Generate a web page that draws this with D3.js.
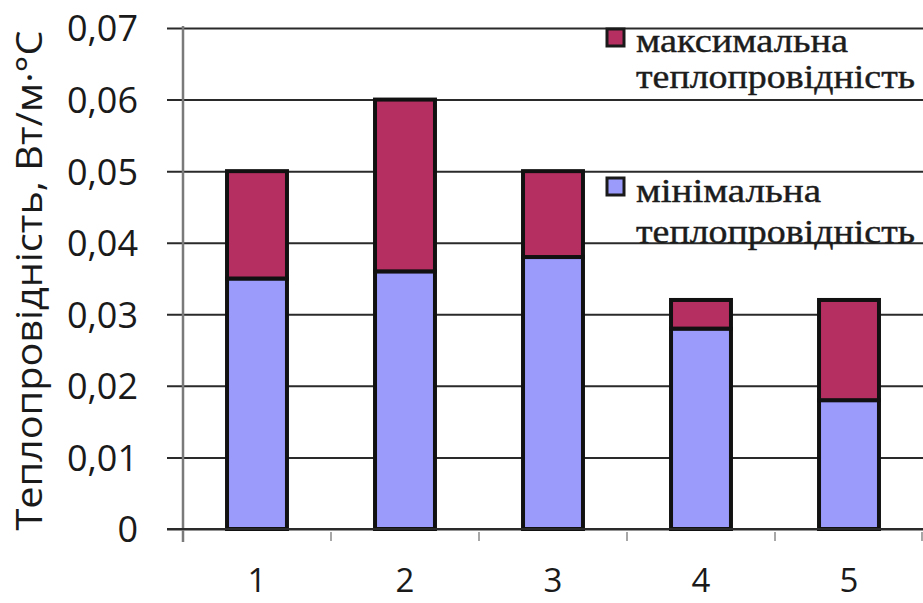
<!DOCTYPE html>
<html>
<head>
<meta charset="utf-8">
<script src="https://cdn.jsdelivr.net/npm/d3@7"></script>
<style>
  html, body { margin: 0; padding: 0; background: #ffffff; }
  svg { display: block; }
</style>
</head>
<body>
<svg id="chart" width="923" height="603"></svg>
<script>
// Samples and their thermal conductivity bounds, W/m·°C
const categories = ["1", "2", "3", "4", "5"];
const minValues = [0.035, 0.036, 0.038, 0.028, 0.018];
const maxValues = [0.050, 0.060, 0.050, 0.032, 0.032];
const yTicks = [0, 0.01, 0.02, 0.03, 0.04, 0.05, 0.06, 0.07];
const yTickLabels = ["0", "0,01", "0,02", "0,03", "0,04", "0,05", "0,06", "0,07"];
const seriesNames = ["максимальна теплопровідність", "мінімальна теплопровідність"];
const yTitle = "Теплопровідність, Вт/м·°С";

const colorMax = "#b52f60";
const colorMin = "#9b9bfb";

const svg = d3.select("#chart");
const plot = { left: 183, right: 923, top: 28, bottom: 529 };

const x = d3.scaleBand()
  .domain(categories)
  .range([plot.left, plot.right])
  .paddingInner(0.595)
  .paddingOuter(0.2975);

const y = d3.scaleLinear()
  .domain([0, 0.07])
  .range([plot.bottom, plot.top]);

// horizontal gridlines with small outward ticks
const yAxis = d3.axisLeft(y)
  .tickValues(yTicks)
  .tickSize(-(plot.right - plot.left))
  .tickFormat((d, i) => yTickLabels[i]);

const gy = svg.append("g")
  .attr("transform", `translate(${plot.left},0)`)
  .call(yAxis);
gy.select(".domain").remove();
gy.selectAll(".tick line")
  .attr("x1", -16)
  .attr("stroke", "#2a2a2a")
  .attr("stroke-width", 2);
gy.selectAll(".tick text")
  .attr("x", -45)
  .attr("dy", "0.36em")
  .attr("fill", "#1a1a1a")
  .style("font-family", "'Open Sans', sans-serif")
  .style("font-weight", "500")
  .style("font-size", "36px");

// vertical axis line
svg.append("line")
  .attr("x1", plot.left).attr("x2", plot.left)
  .attr("y1", plot.top - 2).attr("y2", plot.bottom + 13)
  .attr("stroke", "#7a7a7a")
  .attr("stroke-width", 2.5);

// category boundary ticks under the baseline
const boundaries = categories.map(c => x(c) - x.step() * x.paddingOuter()).concat([plot.right - 1]);
svg.append("g").selectAll("line")
  .data(boundaries.slice(1))
  .join("line")
  .attr("x1", d => d).attr("x2", d => d)
  .attr("y1", plot.bottom + 3).attr("y2", plot.bottom + 12)
  .attr("stroke", "#8a8a8a")
  .attr("stroke-width", 1.5);

// stacked bars: minimum at the base, the rest up to the maximum on top
const bars = svg.append("g");
categories.forEach((c, i) => {
  bars.append("rect")
    .attr("x", x(c))
    .attr("y", y(minValues[i]))
    .attr("width", x.bandwidth())
    .attr("height", y(0) - y(minValues[i]))
    .attr("fill", colorMin)
    .attr("stroke", "#111")
    .attr("stroke-width", 4);
  bars.append("rect")
    .attr("x", x(c))
    .attr("y", y(maxValues[i]))
    .attr("width", x.bandwidth())
    .attr("height", y(minValues[i]) - y(maxValues[i]))
    .attr("fill", colorMax)
    .attr("stroke", "#111")
    .attr("stroke-width", 4);
});

// baseline
svg.append("line")
  .attr("x1", plot.left - 16).attr("x2", plot.right)
  .attr("y1", plot.bottom).attr("y2", plot.bottom)
  .attr("stroke", "#2a2a2a")
  .attr("stroke-width", 2);

// category labels
svg.append("g").selectAll("text")
  .data(categories)
  .join("text")
  .attr("x", d => x(d) + x.bandwidth() / 2)
  .attr("y", 592)
  .attr("text-anchor", "middle")
  .attr("fill", "#1a1a1a")
  .style("font-family", "'Open Sans', sans-serif")
  .style("font-weight", "500")
  .style("font-size", "33px")
  .text(d => d);

// rotated axis title
svg.append("text")
  .attr("transform", `translate(42,${(plot.top + plot.bottom) / 2 + 2}) rotate(-90)`)
  .attr("text-anchor", "middle")
  .attr("fill", "#1a1a1a")
  .attr("textLength", 500)
  .attr("lengthAdjust", "spacingAndGlyphs")
  .style("font-family", "'Open Sans', sans-serif")
  .style("font-size", "36px")
  .text(yTitle);

// legend
const legend = svg.append("g")
  .style("font-family", "'Liberation Serif', 'Times New Roman', serif")
  .style("font-size", "33px")
  .attr("fill", "#1c1c1c")
  .attr("stroke", "#1c1c1c")
  .attr("stroke-width", 0.4);

const legendItems = [
  { color: colorMax, words: seriesNames[0].split(" "), boxY: 29, lineY: [52, 88], widths: [212, 279] },
  { color: colorMin, words: seriesNames[1].split(" "), boxY: 178, lineY: [202, 243], widths: [185, 279] }
];
legendItems.forEach(item => {
  legend.append("rect")
    .attr("x", 607).attr("y", item.boxY)
    .attr("width", 17).attr("height", 17)
    .attr("fill", item.color)
    .attr("stroke", "#1a1a1a")
    .attr("stroke-width", 3);
  item.words.forEach((w, k) => {
    legend.append("text")
      .attr("x", 636)
      .attr("y", item.lineY[k])
      .attr("textLength", item.widths[k])
      .attr("lengthAdjust", "spacingAndGlyphs")
      .text(w);
  });
});
</script>
</body>
</html>
